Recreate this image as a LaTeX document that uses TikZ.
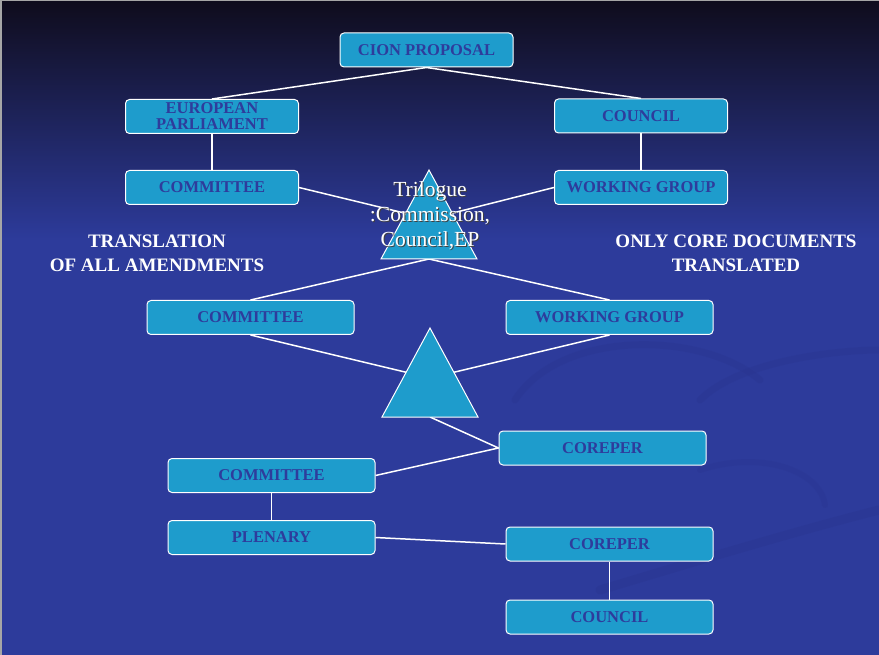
\documentclass[tikz,border=0pt]{standalone}
\usepackage{fontspec}
\setmainfont{Liberation Serif}
\definecolor{boxblue}{HTML}{1E9CCC}
\definecolor{textblue}{HTML}{2E3C9C}
\definecolor{bgblue}{HTML}{2D3B9B}
\definecolor{bgdark}{HTML}{0F0C1C}
\definecolor{swoosh}{HTML}{2A3590}
\pgfdeclarelayer{bg}
\pgfdeclarelayer{links}
\pgfsetlayers{bg,links,main}
\tikzset{
  box/.style={draw=white, line width=1pt, fill=boxblue, rounded corners=4pt,
    minimum width=173pt, minimum height=34pt, inner sep=0pt, text=textblue,
    font=\fontsize{16.5}{16}\selectfont\bfseries, align=center},
  widebox/.style={box, minimum width=207pt},
  link/.style={draw=white, line width=1.5pt},
  note/.style={text=white, font=\fontsize{19}{24}\selectfont\bfseries, align=center},
  tri/.style={fill=boxblue, draw=white, line width=1pt},
  trilabel/.style={font=\fontsize{21.5}{25}\selectfont, align=center}
}

\begin{document}
\begin{tikzpicture}[x=1pt,y=-1pt]
  \useasboundingbox (0,0) rectangle (879,655);

  % Background
  \begin{pgfonlayer}{bg}
    \fill [bgblue] (0,0) rectangle (879,655);
    \shade [top color=bgdark, bottom color=bgblue] (0,0) rectangle (879,240);
    % Faint swooshes
    \draw [swoosh, line width=7pt, line cap=round, opacity=0.4]
      (515,400) .. controls (560,330) and (700,330) .. (760,380);
    \draw [swoosh, line width=7pt, line cap=round, opacity=0.4]
      (700,400) .. controls (740,360) and (840,350) .. (879,350);
    \draw [swoosh, line width=9pt, line cap=round, opacity=0.45]
      (600,590) .. controls (700,560) and (800,530) .. (879,510);
    \draw [swoosh, line width=6pt, line cap=round, opacity=0.35]
      (700,470) .. controls (760,450) and (820,470) .. (825,505);
    \draw [gray!70, line width=1.5pt] (0.75,655) -- (0.75,0.75) -- (879,0.75);
  \end{pgfonlayer}

  % Top of the procedure
  \node [box] (cion) at (426.5,50) {CION PROPOSAL};
  \node [box] (ep) at (212,116.5) {EUROPEAN\\PARLIAMENT};
  \node [box] (council) at (641,116) {COUNCIL};
  \node [box] (committee) at (212,187.5) {COMMITTEE};
  \node [box] (workgroup) at (641,187.5) {WORKING GROUP};

  % First trilogue
  \coordinate (trione) at (429,219);
  \coordinate (trionebase) at (429,259);
  \filldraw [tri] (429,170) -- (477,259) -- (381,259) -- cycle;
  \node [trilabel, text=black!75] at (431,217) {Trilogue\\:Commission,\\Council,EP};
  \node [trilabel, text=white] (trilogue) at (430,216) {Trilogue\\:Commission,\\Council,EP};

  % Side notes
  \node [note] (allnote) at (157,253) {TRANSLATION\\OF ALL AMENDMENTS};
  \node [note] (corenote) at (736,253) {ONLY CORE DOCUMENTS\\TRANSLATED};

  % Second reading
  \node [widebox] (committeetwo) at (250.5,317.5) {COMMITTEE};
  \node [widebox] (workgrouptwo) at (609.5,317.5) {WORKING GROUP};

  % Second trilogue
  \coordinate (tritwo) at (430,378);
  \coordinate (tritwobase) at (430,417);
  \filldraw [tri] (430,328) -- (478,417) -- (382,417) -- cycle;

  % Third reading
  \node [widebox] (coreper) at (602.5,448) {COREPER};
  \node [widebox] (committeethree) at (271.5,475.5) {COMMITTEE};
  \node [widebox] (plenary) at (271.5,537.5) {PLENARY};
  \node [widebox] (corepertwo) at (609.5,544) {COREPER};
  \node [widebox] (counciltwo) at (609.5,617) {COUNCIL};

  % Connectors
  \begin{pgfonlayer}{links}
    \draw [link] (ep.north) -- (cion.south) -- (council.north);
    \draw [link] (ep) -- (committee);
    \draw [link] (council) -- (workgroup);
    \draw [link] (committee.east) -- (trione) -- (workgroup.west);
    \draw [link] (committeetwo.north) -- (trionebase) -- (workgrouptwo.north);
    \draw [link] (committeetwo.south) -- (tritwo) -- (workgrouptwo.south);
    \draw [link] (tritwobase) -- (coreper.west) -- (committeethree.east);
    \draw [link] (committeethree) -- (plenary);
    \draw [link] (plenary.east) -- (corepertwo.west);
    \draw [link] (corepertwo) -- (counciltwo);
  \end{pgfonlayer}
\end{tikzpicture}
\end{document}
